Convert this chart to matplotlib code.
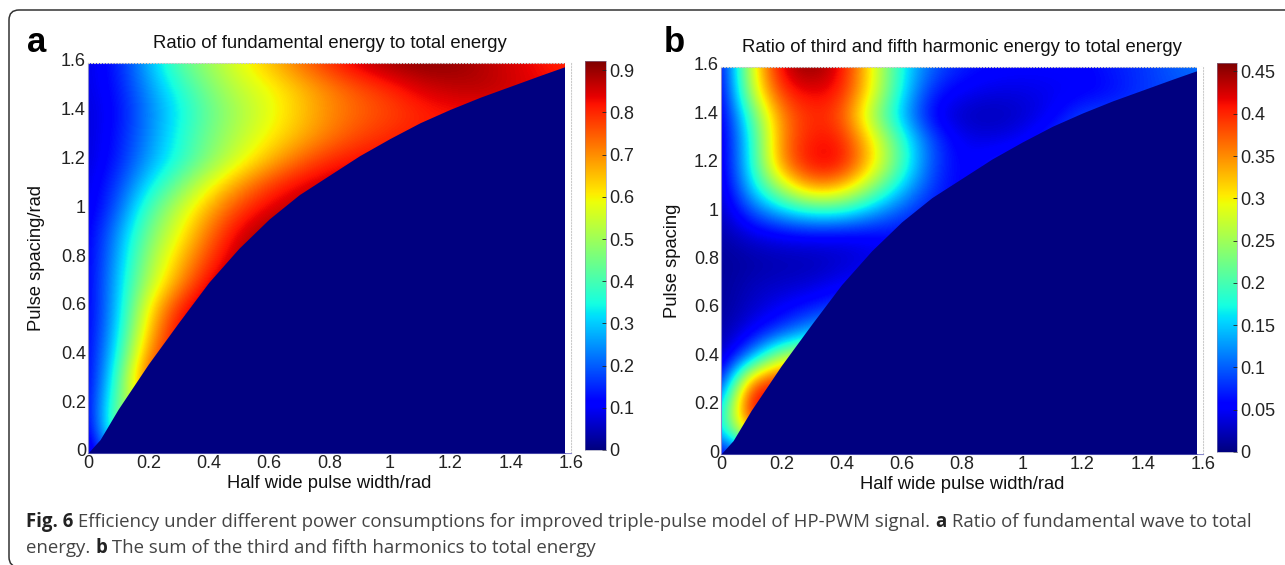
import numpy as np
import matplotlib
matplotlib.use('Agg')
import matplotlib.pyplot as plt
from matplotlib.patches import FancyBboxPatch, Rectangle
from matplotlib.transforms import ScaledTranslation

W, H = 1285, 565

x_grid = [0.0, 0.1, 0.2, 0.3, 0.4, 0.5, 0.6, 0.7, 0.8, 0.9, 1.0, 1.1, 1.2, 1.3, 1.4, 1.5, 1.6]
y_grid = [0.0, 0.1, 0.2, 0.3, 0.4, 0.5, 0.6, 0.7, 0.8, 0.9, 1.0, 1.1, 1.2, 1.3, 1.4, 1.5, 1.6]

# edge of the filled wedge, everything under it is zero
edge_x = [0, 0.04, 0.1, 0.2, 0.3, 0.4, 0.5, 0.6, 0.7, 0.8, 0.9, 1.0, 1.1, 1.2, 1.3, 1.4, 1.5, 1.58]
edge_y = [0, 0.055, 0.18, 0.365, 0.535, 0.70, 0.84, 0.96, 1.06, 1.14, 1.22, 1.29, 1.355, 1.41, 1.46, 1.505, 1.55, 1.585]

# rows go from y=0 upward, read off the picture by colour
# rows stop shortly after the edge, they get padded with the last value
ratio_a = [
    [.02, .30, .50],
    [.06, .50, .60, .60],
    [.08, .46, .65, .75],
    [.08, .40, .80, .85],
    [.09, .345, .72, .85, .88],
    [.09, .31, .65, .85, .90],
    [.09, .29, .60, .80, .90, .92],
    [.09, .29, .52, .69, .84, .91, .92],
    [.09, .27, .49, .64, .78, .88, .91],
    [.09, .25, .45, .585, .73, .85, .90, .91],
    [.08, .20, .40, .54, .67, .78, .85, .88, .89],
    [.08, .17, .32, .45, .58, .69, .78, .84, .87, .88],
    [.07, .14, .26, .36, .47, .57, .66, .74, .80, .83, .84, .84],
    [.07, .13, .24, .35, .45, .53, .60, .66, .72, .77, .80, .82, .82],
    [.07, .12, .23, .33, .43, .51, .575, .64, .70, .74, .77, .80, .82, .82, .82],
    [.08, .13, .25, .36, .46, .54, .59, .65, .71, .76, .80, .85, .87, .88, .86, .84, .82],
    [.08, .14, .28, .42, .50, .58, .65, .73, .80, .86, .90, .915, .91, .88, .85, .82, .80],
]

ratio_b = [
    [.03, .10, .10],
    [.14, .38, .33],
    [.12, .47, .40],
    [.04, .38, .42],
    [.02, .12, .27, .30],
    [.015, .05, .09, .14, .17],
    [.01, .03, .05, .07, .09],
    [.01, .025, .03, .035, .05, .06],
    [.01, .015, .02, .02, .03, .04, .05],
    [.015, .035, .045, .05, .045, .05, .06, .06],
    [.02, .09, .14, .17, .17, .13, .09, .06, .06, .06],
    [.025, .15, .26, .35, .33, .24, .15, .08, .05, .06, .07],
    [.03, .17, .36, .42, .42, .32, .20, .09, .05, .07, .08],
    [.03, .17, .36, .41, .41, .31, .19, .09, .045, .04, .05, .08, .10],
    [.03, .20, .36, .40, .385, .25, .14, .05, .025, .02, .03, .05, .09],
    [.03, .27, .40, .42, .41, .30, .165, .07, .05, .04, .04, .045, .05, .06, .08, .09, .10],
    [.04, .28, .43, .46, .42, .30, .17, .10, .07, .06, .055, .055, .055, .07, .08, .10, .11],
]

spatial_ticks = [0, 0.2, 0.4, 0.6, 0.8, 1, 1.2, 1.4, 1.6]
spatial_labels = ['0', '0.2', '0.4', '0.6', '0.8', '1', '1.2', '1.4', '1.6']
cbar_ticks_a = [0, 0.1, 0.2, 0.3, 0.4, 0.5, 0.6, 0.7, 0.8, 0.9]
cbar_labels_a = ['0', '0.1', '0.2', '0.3', '0.4', '0.5', '0.6', '0.7', '0.8', '0.9']
cbar_ticks_b = [0, 0.05, 0.1, 0.15, 0.2, 0.25, 0.3, 0.35, 0.4, 0.45]
cbar_labels_b = ['0', '0.05', '0.1', '0.15', '0.2', '0.25', '0.3', '0.35', '0.4', '0.45']

caption_1 = [('Fig. 6', True), (' Efficiency under different power consumptions for improved triple-pulse model of HP-PWM signal. ', False),
             ('a', True), (' Ratio of fundamental wave to total', False)]
caption_2 = [('energy. ', False), ('b', True), (' The sum of the third and fifth harmonics to total energy', False)]

plt.rcParams['font.family'] = ['Liberation Sans', 'DejaVu Sans']


def px_axes(fig, left, top, right, bottom):
    return fig.add_axes([left / W, 1 - bottom / H, (right - left) / W, (bottom - top) / H])


def pad_rows(rows):
    return np.array([r + [r[-1]] * (len(x_grid) - len(r)) for r in rows])


def draw_panel(fig, box, cbox, rows, vmax, title, ylabel, label_x, letter, letter_x, cticks, clabels):
    ax = px_axes(fig, *box)
    dx = 0.05
    im = ax.imshow(pad_rows(rows), origin='lower', cmap='jet', vmin=0, vmax=vmax,
                   extent=(x_grid[0] - dx, x_grid[-1] + dx, y_grid[0] - dx, y_grid[-1] + dx),
                   aspect='auto', interpolation='bicubic', zorder=2)
    im.set_clip_path(Rectangle((0, 0), 1.58, 1.6, transform=ax.transData))
    low = plt.get_cmap('jet')(0.0)
    ax.fill_between(edge_x, 0, edge_y, color=low, lw=0, zorder=3)
    ax.add_patch(Rectangle((1.58, 0), 0.02, 1.6, fc='white', ec='none', zorder=3))
    ax.set_xlim(0, 1.6)
    ax.set_ylim(0, 1.6)
    ax.set_xticks(spatial_ticks)
    ax.set_xticklabels(spatial_labels)
    ax.set_yticks(spatial_ticks)
    ax.set_yticklabels(spatial_labels)
    ax.tick_params(length=0, labelsize=13, pad=1.5, colors='#222222')
    # y labels sit a few pixels above their ticks in the original
    lift = ScaledTranslation(0, 3 / 100, fig.dpi_scale_trans)
    for lab in ax.get_yticklabels():
        lab.set_transform(lab.get_transform() + lift)
    for s in ['top', 'right']:
        ax.spines[s].set_linestyle(':')
        ax.spines[s].set_color('#cccccc')
        ax.spines[s].set_linewidth(0.8)
    for s in ['left', 'bottom']:
        ax.spines[s].set_color('#8888cc')
        ax.spines[s].set_linewidth(0.8)
    ax.set_title(title, fontsize=13.3, color='#111111', pad=11)
    ax.set_xlabel('Half wide pulse width/rad', fontsize=13.2, color='#111111', labelpad=2)
    ax.set_ylabel(ylabel, fontsize=13.2, color='#111111')
    ax.yaxis.set_label_coords((label_x - box[0]) / (box[2] - box[0]), 0.5)
    fig.text(letter_x / W, 1 - 52 / H, letter, fontsize=25, fontweight='bold', color='black')

    # colorbar strip
    cax = px_axes(fig, *cbox)
    ramp = np.arange(0, 256).reshape(-1, 1) / 255 * vmax
    cax.imshow(ramp, origin='lower', cmap='jet', vmin=0, vmax=vmax, aspect='auto',
               extent=(0, 1, 0, vmax))
    cax.set_xticks([])
    cax.yaxis.tick_right()
    cax.set_yticks(cticks)
    cax.set_yticklabels(clabels)
    cax.tick_params(axis='y', direction='in', length=3, width=0.6, labelsize=13, pad=2, colors='#222222')
    for s in cax.spines.values():
        s.set_linewidth(0.4)
        s.set_color('#8888aa')


def draw_runs(fig, x_px, y_px, runs, size):
    renderer = fig.canvas.get_renderer()
    x = x_px
    for txt, bold in runs:
        t = fig.text(x / W, 1 - y_px / H, txt, fontsize=size, family='Open Sans',
                     fontweight='bold' if bold else 'normal',
                     color='#222222' if bold else '#444444', va='baseline')
        # trailing spaces do not count in the extent, so measure with a dot on the end
        t.set_text(txt + '.')
        w_dot = t.get_window_extent(renderer).width
        t.set_text('.')
        dot = t.get_window_extent(renderer).width
        t.set_text(txt)
        x += w_dot - dot


fig = plt.figure(figsize=(W / 100, H / 100), dpi=100)

# card outline, runs off the right of the picture
frame = fig.add_axes([0, 0, 1, 1], zorder=-1)
frame.set_xlim(0, W)
frame.set_ylim(H, 0)
frame.axis('off')
frame.add_patch(FancyBboxPatch((9, 10), W + 40, 557, boxstyle='round,pad=0,rounding_size=10',
                               fc='white', ec='#333333', lw=1.1))

draw_panel(fig, (88, 63, 571, 453), (585, 61, 606, 450), ratio_a, 0.922,
           'Ratio of fundamental energy to total energy', 'Pulse spacing/rad', 45, 'a', 27,
           cbar_ticks_a, cbar_labels_a)
draw_panel(fig, (721, 67, 1203, 454), (1217, 63, 1237, 452), ratio_b, 0.46,
           'Ratio of third and fifth harmonic energy to total energy', 'Pulse spacing', 681, 'b', 664,
           cbar_ticks_b, cbar_labels_b)

draw_runs(fig, 26, 527, caption_1, 13.45)
draw_runs(fig, 26, 553, caption_2, 13.45)

plt.savefig('out.png', dpi=100)
